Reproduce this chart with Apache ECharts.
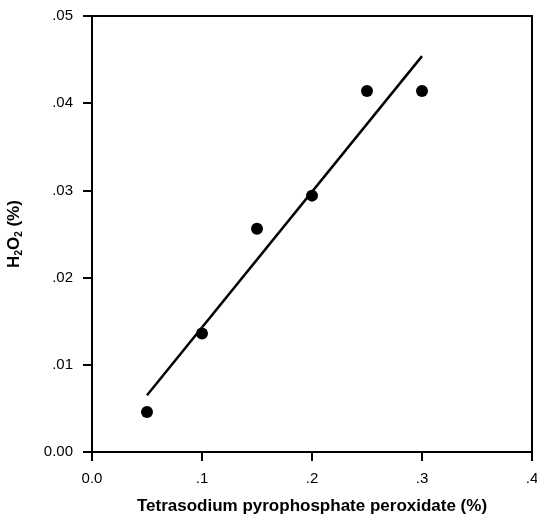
<!DOCTYPE html>
<html>
<head>
<meta charset="utf-8">
<script src="https://cdn.jsdelivr.net/npm/echarts@6/dist/echarts.min.js"></script>
<style>html,body{margin:0;padding:0;background:#fff}#c{width:537px;height:516px}</style>
</head>
<body>
<div id="c"></div>
<script>
// Data
var xValues = [0.05, 0.10, 0.15, 0.20, 0.25, 0.30];
var yValues = [0.0046, 0.0136, 0.0256, 0.0294, 0.0414, 0.0414];
var fitX = [0.05, 0.30];
var fitY = [0.0065, 0.0454];
var xTickLabels = {0: '0.0', 0.1: '.1', 0.2: '.2', 0.3: '.3', 0.4: '.4'};
var yTickLabels = {0: '0.00', 0.01: '.01', 0.02: '.02', 0.03: '.03', 0.04: '.04', 0.05: '.05'};
var xName = 'Tetrasodium pyrophosphate peroxidate (%)';

function fmt(map, v) {
  var k = Math.round(v * 1000) / 1000;
  return map[k] !== undefined ? map[k] : '';
}

var chart = echarts.init(document.getElementById('c'), null, {renderer: 'canvas'});
var font = 'Liberation Sans, Arial, sans-serif';
chart.setOption({
  animation: false,
  grid: {left: 92, right: 5, top: 16, bottom: 64, containLabel: false, outerBoundsMode: 'none',
    show: true, borderColor: '#000', borderWidth: 2, backgroundColor: 'transparent'},
  xAxis: {
    type: 'value', min: 0, max: 0.4, interval: 0.1,
    name: xName, nameLocation: 'middle', nameGap: 46,
    nameTextStyle: {fontFamily: font, fontWeight: 'bold', fontSize: 17, color: '#000'},
    axisLine: {show: true, onZero: false, lineStyle: {color: '#000', width: 2}},
    axisTick: {show: true, length: 9, lineStyle: {color: '#000', width: 2}},
    axisLabel: {margin: 19, fontFamily: font, fontSize: 15, color: '#000', formatter: function (v) { return fmt(xTickLabels, v); }},
    splitLine: {show: false}
  },
  yAxis: {
    type: 'value', min: 0, max: 0.05, interval: 0.01,
    name: 'H{s|2}O{s|2} (%)', nameLocation: 'middle', nameGap: 68, nameRotate: 90,
    nameTextStyle: {fontFamily: font, fontWeight: 'bold', fontSize: 17, color: '#000',
      rich: {s: {fontFamily: font, fontWeight: 'bold', fontSize: 10, color: '#000', padding: [10, 0, 0, 0]}}},
    axisLine: {show: true, onZero: false, lineStyle: {color: '#000', width: 2}},
    axisTick: {show: true, length: 9, lineStyle: {color: '#000', width: 2}},
    axisLabel: {margin: 19, fontFamily: font, fontSize: 15, color: '#000', formatter: function (v) { return fmt(yTickLabels, v); }},
    splitLine: {show: false}
  },
  series: [
    {
      type: 'line',
      data: fitX.map(function (x, i) { return [x, fitY[i]]; }),
      showSymbol: false, symbol: 'none',
      lineStyle: {color: '#000', width: 2.5},
      z: 2
    },
    {
      type: 'scatter',
      data: xValues.map(function (x, i) { return [x, yValues[i]]; }),
      symbol: 'circle', symbolSize: 12,
      itemStyle: {color: '#000', opacity: 1},
      z: 3
    }
  ]
});
</script>
</body>
</html>
